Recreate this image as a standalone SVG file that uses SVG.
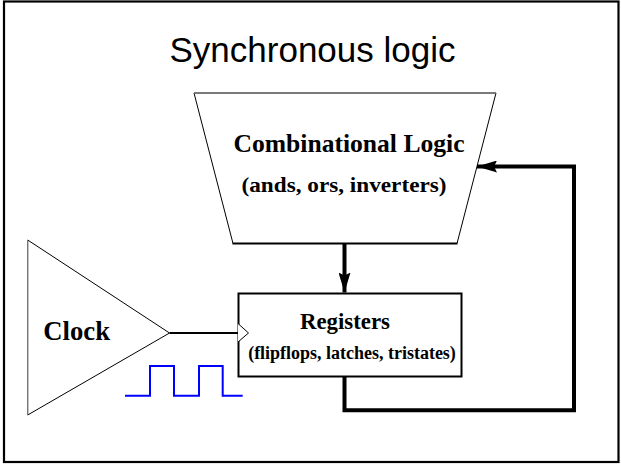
<svg xmlns="http://www.w3.org/2000/svg" width="621" height="465" viewBox="0 0 621 465">
  <style>
    .serif { font-family: "Liberation Serif", "Times New Roman", serif; font-weight: bold; fill: #000; text-anchor: middle; }
    .title { font-family: "Liberation Sans", Arial, sans-serif; font-size: 35px; fill: #000; text-anchor: middle; }
    .thin { fill: none; stroke: #000; stroke-width: 1; }
    .wire { fill: none; stroke: #000; stroke-width: 4; stroke-linejoin: miter; stroke-linecap: butt; }
  </style>
  <defs>
    <marker id="head" markerUnits="userSpaceOnUse" viewBox="0 0 20 12" refX="20" refY="6" markerWidth="20" markerHeight="12" orient="auto">
      <path d="M0,0 L20,6 L0,12 L3,6 Z" fill="#000"/>
    </marker>
  </defs>

  <rect x="0" y="0" width="621" height="465" fill="#fff"/>
  <!-- outer frame -->
  <rect x="4" y="1.5" width="614.5" height="460.5" fill="none" stroke="#000" stroke-width="2.2"/>

  <text class="title" x="312.5" y="62">Synchronous logic</text>

  <!-- combinational block -->
  <g id="combinational">
    <polygon points="194,93 496,93 457,243.5 233,243.5" fill="#fff" stroke="#000" stroke-width="1"/>
    <line x1="194" y1="93" x2="496" y2="93" stroke="#777" stroke-width="1.5"/>
    <line x1="232.5" y1="243.5" x2="457.5" y2="243.5" stroke="#000" stroke-width="2"/>
    <text class="serif" x="349" y="152" font-size="25" textLength="231" lengthAdjust="spacingAndGlyphs">Combinational Logic</text>
    <text class="serif" x="344" y="192" font-size="22" textLength="205" lengthAdjust="spacingAndGlyphs">(ands, ors, inverters)</text>
  </g>

  <!-- clock source -->
  <g id="clock">
    <polygon points="27.7,240 169.5,333 27.7,415" fill="#fff" stroke="#000" stroke-width="1"/>
    <line x1="27.7" y1="240" x2="27.7" y2="415" stroke="#888" stroke-width="1"/>
    <text class="serif" x="76.7" y="339.5" font-size="27" textLength="66.7" lengthAdjust="spacingAndGlyphs">Clock</text>
    <polyline points="125,395.7 150,395.7 150,366 174,366 174,395.7 199,395.7 199,366 222.7,366 222.7,395.7 242.7,395.7" fill="none" stroke="#0000ff" stroke-width="2"/>
  </g>

  <!-- register block -->
  <g id="registers">
    <rect x="238.5" y="293.5" width="223" height="83" fill="#fff" stroke="#000" stroke-width="2"/>
    <polyline points="238,323.5 248.5,333 238,342" fill="#fff" stroke="#000" stroke-width="1"/>
    <text class="serif" x="345" y="328.5" font-size="23" textLength="90" lengthAdjust="spacingAndGlyphs">Registers</text>
    <text class="serif" x="352" y="358.5" font-size="18" textLength="207.7" lengthAdjust="spacingAndGlyphs">(flipflops, latches, tristates)</text>
  </g>

  <!-- connectors -->
  <g id="connectors">
    <line x1="169.5" y1="333" x2="238" y2="333" stroke="#000" stroke-width="2"/>
    <line class="wire" x1="344.5" y1="244" x2="344.5" y2="292.5" marker-end="url(#head)"/>
    <polyline class="wire" points="344.5,376 344.5,410.3 574,410.3 574,166.5 477,166.5" marker-end="url(#head)"/>
  </g>
</svg>
